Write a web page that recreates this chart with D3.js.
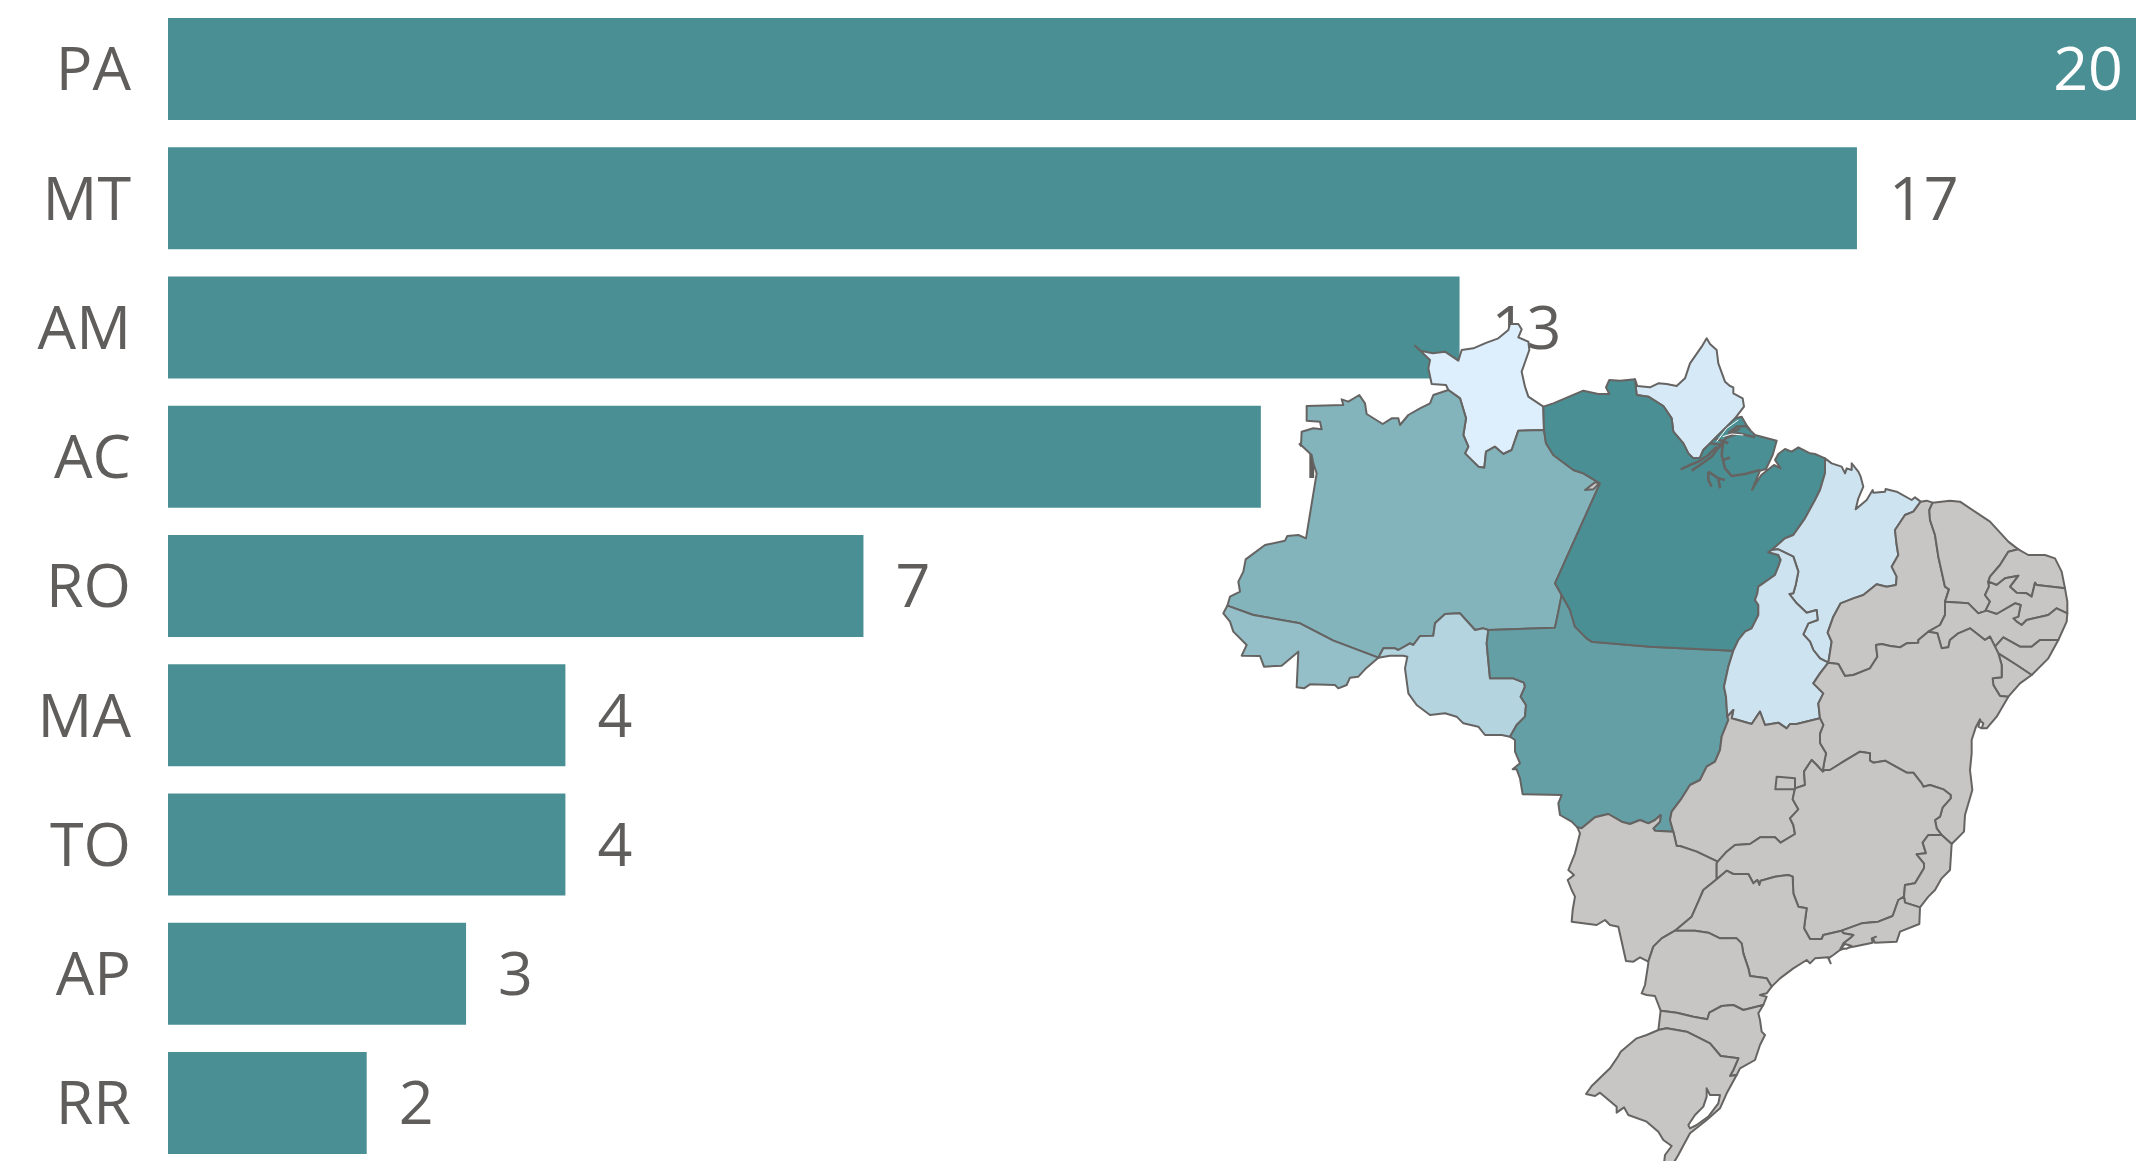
<!DOCTYPE html>
<html>
<head>
<meta charset="utf-8">
<style>
  html, body { margin: 0; background: #fff; overflow: hidden; }
  text { font-family: "Open Sans", sans-serif; font-size: 61px; }
</style>
<script src="https://cdn.jsdelivr.net/npm/d3@7"></script>
</head>
<body>
<div id="chart"></div>
<script>
const categories = ["PA", "MT", "AM", "AC", "RO", "MA", "TO", "AP", "RR"];
const values = [20, 17, 13, 11, 7, 4, 4, 3, 2];

// state borders, in quantized map units (topojson style)
const rrCoast = [745,270, 738,255, 695,252, 685,205, 690,180, 645,137, 662,152, 698,160, 735,155, 775,182, 785,150, 820,145, 860,128, 895,115, 925,90, 930,72, 955,72, 965,88, 955,112, 985,125, 988,150, 965,215, 975,260, 985,290, 1030,320];
const rrPa = [1030,320, 1032,390];
const rrAm = [745,270, 780,295, 798,355, 790,405, 805,440, 795,460, 810,475, 835,500, 853,503, 858,455, 885,440, 910,462, 935,450, 955,392, 1032,390];
const amNorth = [745,270, 700,285, 690,310, 660,325, 625,345, 600,375, 595,355, 575,355, 548,372, 500,342, 495,310, 478,285, 445,305, 425,298, 430,315, 320,318, 320,362, 360,365, 365,388, 340,385, 305,395, 303,435, 335,465, 340,490, 350,520, 318,715, 295,705, 262,708, 255,722, 195,735, 137,778, 130,815, 115,845, 120,875, 90,890, 82,917];
const amAc = [82,917, 160,945, 300,970, 400,1022, 535,1073];
const amRo = [535,1073, 550,1045, 585,1045, 595,1050, 630,1030, 640,1035, 660,1008, 700,1007, 705,970, 735,942, 780,940, 825,990, 850,985, 865,990];
const amMt = [865,990, 1065,983, 1075,935, 1085,885];
const amPa = [1032,390, 1038,430, 1060,465, 1120,510, 1150,520, 1200,550, 1065,850, 1085,885];
const acRest = [82,917, 70,940, 90,965, 100,995, 140,1035, 125,1067, 180,1068, 192,1100, 245,1097, 295,1055, 290,1162, 312,1165, 330,1153, 405,1155, 415,1165, 440,1155, 450,1133, 475,1130, 495,1108, 535,1073];
const roSouth = [535,1073, 570,1067, 610,1067, 622,1070, 615,1105, 625,1180, 650,1215, 690,1245, 735,1240, 770,1250, 790,1270, 835,1280, 855,1305, 905,1305, 930,1310];
const roMt = [865,990, 860,1030, 870,1135, 940,1135, 972,1148, 975,1160, 962,1190, 978,1215, 975,1250, 950,1275, 930,1310];
const mtWest = [930,1310, 945,1320, 945,1355, 960,1390, 938,1408, 950,1408, 960,1435, 968,1483, 1085,1485, 1075,1510, 1080,1545, 1115,1565, 1132,1582];
const mtPa = [1085,885, 1110,930, 1125,980, 1160,1015, 1175,1025, 1350,1040, 1600,1052];
const mtTo = [1600,1052, 1585,1100, 1572,1160, 1578,1190, 1582,1250];
const mtGo = [1582,1250, 1585,1260, 1565,1310, 1560,1350, 1545,1385, 1520,1400, 1500,1440, 1470,1455, 1445,1495, 1415,1535, 1410,1560, 1420,1595];
const mtMs = [1420,1595, 1365,1592, 1360,1585, 1380,1565, 1382,1545, 1365,1560, 1345,1570, 1320,1560, 1290,1572, 1265,1565, 1225,1542, 1185,1552, 1145,1585, 1132,1582];
const paNorth = [1030,320, 1060,310, 1095,295, 1150,272, 1195,282, 1228,282, 1218,262, 1228,240, 1260,242, 1305,238];
const apPa = [1305,238, 1310,285, 1345,290, 1390,318, 1415,355, 1420,395, 1450,430, 1465,460, 1480,475, 1500,473];
const apCoast = [1305,238, 1312,258, 1350,262, 1375,250, 1400,252, 1430,258, 1455,235, 1470,190, 1505,140, 1520,115, 1530,132, 1550,150, 1555,190, 1575,245, 1590,258, 1600,262, 1600,280, 1628,295, 1632,320, 1605,355, 1575,385, 1550,410, 1530,430, 1510,450, 1500,473];
const paCoast = [1500,473, 1510,450, 1530,430, 1550,410, 1575,385, 1605,355, 1625,350, 1645,385, 1665,405, 1730,422, 1718,465, 1698,507, 1680,512, 1656,570, 1668,550, 1684,525, 1700,512, 1722,495, 1742,505, 1725,480, 1735,462, 1755,447, 1775,455, 1795,442, 1830,460, 1845,462, 1875,475];
const paMa = [1875,475, 1875,520, 1860,570, 1845,600, 1815,655, 1780,705, 1755,715, 1715,750];
const paTo = [1715,750, 1705,757, 1735,765, 1742,780, 1735,800, 1725,825, 1675,860, 1672,880, 1665,900, 1675,915, 1675,945, 1655,985, 1635,995, 1615,1020, 1600,1052];
const maCoast = [1875,475, 1895,490, 1925,500, 1935,520, 1940,505, 1955,510, 1955,490, 1975,515, 1982,530, 1990,560, 1975,595, 1967,628, 2000,600, 2018,570, 2020,578, 2055,575, 2057,567, 2090,575, 2135,600, 2145,592, 2162,605];
const maPi = [2162,605, 2140,635, 2115,645, 2085,690, 2090,735, 2095,765, 2075,800, 2090,830, 2088,855, 2060,860, 2030,853, 1990,885, 1960,895, 1922,910, 1900,950, 1883,998, 1895,1025, 1885,1088];
const maTo = [1715,750, 1735,748, 1780,770, 1795,815, 1787,855, 1780,880, 1768,882, 1790,910, 1820,938, 1850,930, 1853,960, 1825,970, 1810,1003, 1830,1025, 1840,1050, 1860,1075, 1885,1088];
const toGo = [1582,1250, 1600,1230, 1595,1255, 1655,1272, 1680,1235, 1695,1275, 1735,1268, 1760,1285, 1770,1272, 1790,1272, 1860,1255];
const toBa = [1885,1088, 1860,1120, 1840,1150, 1870,1180, 1855,1210, 1860,1255];
const piCoast = [2162,605, 2180,602, 2198,608];
const piCe = [2198,608, 2188,630, 2190,660, 2205,705, 2215,770, 2235,860, 2247,868, 2235,905];
const piPe = [2235,905, 2235,945, 2220,975, 2185,995];
const piBa = [2185,995, 2155,1020, 2155,1028, 2120,1030, 2100,1042, 2070,1038, 2045,1032, 2028,1035, 2032,1070, 2010,1105, 1960,1125, 1935,1128, 1915,1092, 1885,1088];
const ceCoast = [2198,608, 2250,602, 2280,605, 2370,665, 2425,725, 2455,748];
const ceRn = [2455,748, 2425,755, 2400,795, 2370,830, 2365,845];
const cePb = [2365,845, 2367,860, 2355,885, 2370,905, 2355,935, 2335,940];
const cePe = [2335,940, 2305,910, 2235,905];
const rnCoast = [2455,748, 2485,765, 2535,765, 2565,775, 2585,815, 2595,865];
const rnPb = [2595,865, 2510,855, 2505,848, 2495,890, 2480,880, 2450,878, 2430,860, 2455,827, 2415,835, 2390,855, 2365,845];
const pbCoast = [2595,865, 2602,905, 2602,940];
const pbPe = [2602,940, 2570,925, 2545,945, 2480,960, 2465,975, 2450,965, 2440,955, 2455,950, 2462,915, 2445,910, 2390,942, 2360,932, 2335,940];
const peCoast = [2602,940, 2600,965, 2575,1020];
const peAl = [2575,1020, 2520,1020, 2495,1040, 2460,1040, 2410,1012, 2385,1040];
const peBa = [2385,1040, 2370,1010, 2355,1020, 2310,985, 2275,1000, 2250,1020, 2245,1042, 2225,1045, 2212,1000, 2185,995];
const alCoast = [2575,1020, 2545,1075, 2495,1125];
const alSe = [2495,1125, 2450,1095, 2395,1060];
const alBa = [2395,1060, 2385,1040];
const seCoast = [2495,1125, 2460,1150, 2425,1190];
const seBa = [2425,1190, 2400,1188, 2380,1155, 2378,1135, 2405,1132, 2405,1095, 2395,1060];
const baCoast = [2425,1190, 2390,1250, 2360,1285, 2347,1285, 2340,1258, 2328,1280, 2315,1320, 2315,1360, 2310,1410, 2317,1470, 2295,1545, 2292,1595, 2255,1632];
const baEs = [2255,1632, 2225,1605];
const baMg = [1868,1415, 1875,1410, 1890,1410, 1930,1385, 1980,1355, 2010,1360, 2010,1382, 2020,1388, 2055,1382, 2120,1418, 2140,1418, 2165,1450, 2170,1460, 2190,1455, 2230,1468, 2252,1485, 2252,1495, 2228,1522, 2220,1550, 2205,1560, 2210,1585, 2225,1605];
const baGo = [1860,1255, 1870,1275, 1860,1300, 1860,1330, 1878,1360, 1872,1390, 1868,1415];
const goMg = [1553,1685, 1580,1655, 1605,1635, 1650,1632, 1680,1612, 1725,1612, 1742,1628, 1785,1602, 1780,1575, 1770,1555, 1795,1528, 1778,1498, 1785,1465, 1815,1455, 1812,1415, 1835,1380, 1850,1395, 1868,1415];
const goMs = [1553,1685, 1490,1655, 1440,1638, 1430,1638, 1420,1595];
const msWest = [1132,1582, 1140,1600, 1125,1660, 1105,1710, 1122,1725, 1103,1740, 1115,1770, 1125,1790, 1118,1830, 1115,1865, 1190,1875, 1215,1860, 1230,1875, 1255,1880, 1278,1983, 1300,1985, 1320,1972, 1345,1985];
const msPr = [1345,1985, 1360,1940, 1385,1915, 1425,1892];
const msSp = [1425,1892, 1475,1850, 1495,1805, 1510,1770, 1550,1738];
const msMg = [1550,1738, 1550,1690, 1553,1685];
const mgEs = [2225,1605, 2185,1605, 2168,1628, 2178,1660, 2150,1663, 2172,1690, 2172,1705, 2145,1750, 2115,1755, 2112,1790];
const mgRj = [2112,1790, 2095,1800, 2078,1848, 2035,1865, 1985,1870, 1925,1892];
const mgSp = [1925,1892, 1870,1905, 1865,1917, 1830,1917, 1812,1885, 1820,1825, 1795,1820, 1780,1780, 1778,1730, 1765,1725, 1725,1730, 1682,1742, 1678,1755, 1672,1740, 1660,1750, 1645,1722, 1600,1722, 1580,1712, 1550,1738];
const esCoast = [2255,1632, 2250,1710, 2225,1735, 2205,1770, 2185,1790, 2160,1822];
const esRj = [2160,1822, 2115,1808, 2112,1790];
const rjCoast = [2160,1822, 2158,1872, 2100,1895, 2090,1925, 2025,1928, 2018,1915, 2028,1910, 2015,1915, 2018,1928, 1960,1940, 1940,1943, 1920,1950];
const rjSp = [1920,1950, 1930,1930, 1955,1910, 1960,1905, 1930,1900, 1925,1892];
const spCoast = [1920,1950, 1900,1965, 1885,1975, 1892,1990, 1885,1972, 1845,1975, 1830,1990, 1820,1980, 1780,2005, 1740,2035, 1715,2060];
const spPr = [1715,2060, 1700,2035, 1650,2028, 1645,2005, 1630,1960, 1625,1930, 1610,1915, 1560,1915, 1525,1898, 1485,1892, 1425,1892];
const prCoast = [1715,2060, 1700,2080, 1680,2085, 1700,2090, 1690,2115];
const prSc = [1690,2115, 1630,2130, 1600,2115, 1565,2118, 1528,2138, 1522,2158, 1480,2150, 1430,2138, 1382,2132];
const prWest = [1382,2132, 1365,2088, 1340,2085, 1325,2080, 1335,2055, 1345,1990, 1345,1985];
const scCoast = [1690,2115, 1675,2140, 1680,2160, 1685,2195, 1695,2205, 1680,2235, 1670,2265, 1665,2280, 1620,2305, 1610,2325];
const scRs = [1610,2325, 1590,2328, 1600,2310, 1615,2275, 1562,2268, 1530,2230, 1490,2210, 1460,2195, 1400,2185, 1375,2190];
const scWest = [1375,2190, 1382,2132];
const rsRest = [1610,2325, 1580,2380, 1560,2425, 1520,2460, 1470,2500, 1448,2540, 1435,2565, 1420,2590, 1392,2590, 1395,2565, 1415,2538, 1390,2520, 1375,2495, 1340,2465, 1285,2445, 1272,2422, 1250,2438, 1250,2420, 1200,2378, 1185,2388, 1158,2382, 1175,2358, 1230,2305, 1255,2268, 1262,2255, 1310,2215, 1340,2205, 1375,2190];
const dfBox = [1730,1430, 1785,1435, 1785,1468, 1726,1468, 1730,1430];
const amSliver = [1155,570, 1180,568, 1197,550, 1185,547, 1155,570];
const patosLagoon = [1520,2365, 1530,2385, 1560,2385, 1555,2410, 1525,2450, 1490,2475, 1470,2485, 1465,2475, 1485,2445, 1510,2420, 1520,2390, 1520,2365];
const guanabara = [1922,1945, 1935,1932, 1955,1938, 1940,1946, 1922,1945];
const todosSantos = [2340,1262, 2350,1270, 2345,1285, 2335,1280, 2340,1262];
const deltaChannels = [
  [1442,508, 1470,495, 1495,485, 1525,465, 1550,440],
  [1475,512, 1500,495, 1535,470, 1565,430, 1585,405, 1620,385],
  [1570,420, 1565,465, 1575,505, 1595,528, 1635,522, 1680,510],
  [1525,515, 1525,540, 1535,560],
  [1525,515, 1555,535, 1575,540],
  [1555,535, 1560,565],
  [1570,480, 1590,472],
  [1530,430, 1570,435],
  [1545,415, 1585,430],
  [1555,445, 1575,420],
  [1575,415, 1615,400, 1665,412],
  [1585,400, 1610,380, 1640,378, 1650,390],
];
const deltaGaps = [
  [1568,410, 1595,402, 1630,405],
  [1550,425, 1580,385, 1615,360],
];

const pairs = (flat) => d3.range(0, flat.length, 2).map((i) => [flat[i], flat[i + 1]]);
const rev = (flat) => pairs(flat).reverse().flat();
const ring = (...arcs) => arcs.flatMap((a) => pairs(a));

const stateNames = ["RR", "AM", "AC", "RO", "MT", "AP", "PA", "MA", "TO", "PI", "CE", "RN", "PB", "PE", "AL", "SE", "BA", "GO", "MS", "MG", "ES", "RJ", "SP", "PR", "SC", "RS"];
const stateRings = [
  ring(rrCoast, rrPa, rev(rrAm)),
  ring(rrAm, amPa, rev(amMt), rev(amRo), rev(amAc), rev(amNorth)),
  ring(acRest, rev(amAc)),
  ring(amRo, roMt, rev(roSouth)),
  ring(amMt, mtPa, mtTo, mtGo, mtMs, rev(mtWest), rev(roMt)),
  ring(apCoast, rev(apPa)),
  ring(paNorth, apPa, paCoast, paMa, paTo, rev(mtPa), rev(amPa), rev(rrPa)),
  ring(maCoast, maPi, rev(maTo), rev(paMa)),
  ring(paTo, mtTo, toGo, rev(toBa), rev(maTo)),
  ring(piCoast, piCe, piPe, piBa, rev(maPi)),
  ring(ceCoast, ceRn, cePb, cePe, rev(piCe)),
  ring(rnCoast, rnPb, rev(ceRn)),
  ring(pbCoast, pbPe, rev(cePb), rev(rnPb)),
  ring(peCoast, peAl, peBa, rev(piPe), rev(cePe), rev(pbPe)),
  ring(alCoast, alSe, alBa, rev(peAl)),
  ring(seCoast, seBa, rev(alSe)),
  ring(baCoast, baEs, rev(baMg), rev(baGo), rev(toBa), rev(piBa), rev(peBa), rev(alBa), rev(seBa)),
  ring(toGo, baGo, rev(goMg), goMs, rev(mtGo)),
  ring(msWest, msPr, msSp, msMg, goMs, mtMs),
  ring(goMg, baMg, mgEs, mgRj, mgSp, msMg),
  ring(rev(baEs), esCoast, esRj, rev(mgEs)),
  ring(rjCoast, rjSp, rev(mgRj), rev(esRj)),
  ring(spCoast, spPr, msSp, rev(mgSp), rev(rjSp)),
  ring(prCoast, prSc, prWest, msPr, rev(spPr)),
  ring(scCoast, scRs, scWest, rev(prSc)),
  ring(rsRest, rev(scRs)),
];

const width = 2136;
const height = 1161;
const barColor = "#4a8f94";
const textColor = "#605e5c";
const noDataColor = "#c8c6c4";
const borderColor = "#666463";

const svg = d3
  .select("#chart")
  .append("svg")
  .attr("width", width)
  .attr("height", height)
  .style("display", "block");

const x = d3.scaleLinear().domain([0, 20]).range([168, 2155]);
const y = d3.scaleBand().domain(categories).range([18, 1154]).paddingInner(0.211);

const rows = categories.map((name, i) => ({ name, value: values[i] }));

svg
  .selectAll(".bar")
  .data(rows)
  .join("rect")
  .attr("class", "bar")
  .attr("x", x(0))
  .attr("y", (d) => y(d.name))
  .attr("width", (d) => x(d.value) - x(0))
  .attr("height", y.bandwidth())
  .attr("fill", barColor);

svg
  .selectAll(".cat-label")
  .data(rows)
  .join("text")
  .attr("class", "cat-label")
  .attr("x", 131)
  .attr("y", (d) => y(d.name) + y.bandwidth() / 2)
  .attr("dy", "0.35em")
  .attr("text-anchor", "end")
  .attr("fill", textColor)
  .text((d) => d.name);

// the longest bar runs off the page, so its label sits inside in white
svg
  .selectAll(".val-label")
  .data(rows)
  .join("text")
  .attr("class", "val-label")
  .attr("x", (d) => (x(d.value) > width ? width - 13 : x(d.value) + 32))
  .attr("y", (d) => y(d.name) + y.bandwidth() / 2)
  .attr("dy", "0.35em")
  .attr("text-anchor", (d) => (x(d.value) > width ? "end" : "start"))
  .attr("fill", (d) => (x(d.value) > width ? "#fff" : textColor))
  .text((d) => d.value);

const valueByState = new Map(rows.map((d) => [d.name, d.value]));
const color = d3.scaleLinear().domain([2, 20]).range(["#ddeefc", barColor]);

const projection = d3.geoIdentity().scale(1 / 3).translate([1200, 300]);
const path = d3.geoPath(projection);

const polygon = (coords) => ({ type: "Polygon", coordinates: [coords] });
const lines = (list) => ({ type: "MultiLineString", coordinates: list.map(pairs) });

const mapGroup = svg
  .append("g")
  .attr("stroke", borderColor)
  .attr("stroke-width", 2)
  .attr("stroke-linejoin", "round");

mapGroup
  .selectAll(".state")
  .data(stateNames.map((name, i) => ({ name, coords: stateRings[i] })))
  .join("path")
  .attr("class", "state")
  .attr("fill", (d) => (valueByState.has(d.name) ? color(valueByState.get(d.name)) : noDataColor))
  .attr("d", (d) => path(polygon(d.coords)));

mapGroup.append("path").attr("fill", noDataColor).attr("d", path(polygon(pairs(dfBox))));
mapGroup.append("path").attr("fill", noDataColor).attr("d", path(polygon(pairs(amSliver))));

mapGroup
  .selectAll(".water")
  .data([patosLagoon, guanabara, todosSantos])
  .join("path")
  .attr("class", "water")
  .attr("fill", "#fff")
  .attr("d", (d) => path(polygon(pairs(d))));

mapGroup.append("path").attr("fill", "none").attr("stroke-width", 2.6).attr("d", path(lines(deltaChannels)));
mapGroup.append("path").attr("fill", "none").attr("stroke", "#fff").attr("stroke-width", 1).attr("d", path(lines(deltaGaps)));
</script>
</body>
</html>
